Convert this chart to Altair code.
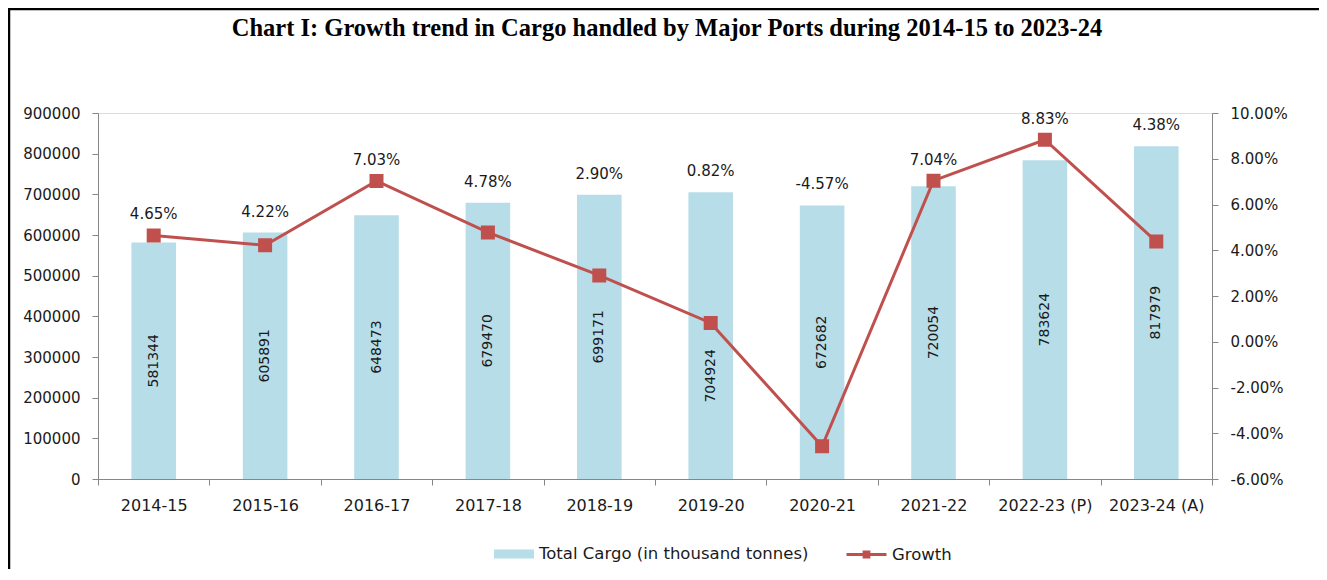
import altair as alt
import pandas as pd

years = ["2014-15", "2015-16", "2016-17", "2017-18", "2018-19",
         "2019-20", "2020-21", "2021-22", "2022-23 (P)", "2023-24 (A)"]
cargo = [581344, 605891, 648473, 679470, 699171, 704924, 672682, 720054, 783624, 817979]
growth_pct = [4.65, 4.22, 7.03, 4.78, 2.90, 0.82, -4.57, 7.04, 8.83, 4.38]

bar_name = "Total Cargo (in thousand tonnes)"
line_name = "Growth"
left_ticks = list(range(0, 900001, 100000))
right_ticks = [-0.06, -0.04, -0.02, 0.0, 0.02, 0.04, 0.06, 0.08, 0.10]

df = pd.DataFrame({
    "year": years,
    "cargo": cargo,
    "growth": [g / 100 for g in growth_pct],
    "bar_series": [bar_name] * len(years),
    "line_series": [line_name] * len(years),
})

W, H = 1114, 366
PAD_L, PAD_T, PAD_R, PAD_B = 90, 105, 107, 90

FONT = "DejaVu Sans"
BAR_COLOR = "#B7DDE8"
LINE_COLOR = "#C0504D"
AXIS_COLOR = "#868686"
TEXT_COLOR = "#1a1a1a"

LEFT_MAX = 900000
R_MIN, R_MAX = -0.06, 0.10
# growth value expressed in units of the left (cargo) axis
G_AS_CARGO = f"((datum.growth - ({R_MIN})) / ({R_MAX} - ({R_MIN})) * {LEFT_MAX})"
HYPHEN = "replace(datum.label, '\u2212', '-')"

x_axis = alt.Axis(title=None, labelAngle=0, tickBand="extent", tickSize=6,
                  labelPadding=12, domainColor=AXIS_COLOR, tickColor=AXIS_COLOR,
                  labelFont=FONT, labelFontSize=16, labelColor=TEXT_COLOR)
x_enc = alt.X("year:N", sort=years,
              scale=alt.Scale(paddingInner=0, paddingOuter=0), axis=x_axis)
x_plain = alt.X("year:N", sort=years)

left_scale = alt.Scale(domain=[0, LEFT_MAX], nice=False, zero=True)
right_scale = alt.Scale(domain=[R_MIN, R_MAX], nice=False, zero=False)

base = alt.Chart(df)

bars = base.mark_bar(width=alt.RelativeBandSize(0.4)).encode(
    x=x_enc,
    y=alt.Y("cargo:Q", scale=left_scale,
            axis=alt.Axis(title=None, orient="left", values=left_ticks, format="d",
                          grid=False, tickSize=6, labelPadding=12,
                          domainColor=AXIS_COLOR, tickColor=AXIS_COLOR,
                          labelFont=FONT, labelFontSize=15, labelColor=TEXT_COLOR)),
    color=alt.Color("bar_series:N", scale=alt.Scale(domain=[bar_name], range=[BAR_COLOR]),
                    legend=alt.Legend(title=None, orient="none", legendX=396, legendY=421,
                                      symbolType="M-1,-0.225H1V0.225H-1Z", symbolSize=1600,
                                      symbolStrokeWidth=0, labelFont=FONT, labelFontSize=16.5,
                                      labelColor=TEXT_COLOR, labelOffset=5, labelLimit=500)),
)

# value labels in the middle of each bar; moved below the growth marker when they would collide
bar_labels = base.mark_text(angle=270, align="center", baseline="middle",
                            font=FONT, fontSize=14, color=TEXT_COLOR).encode(
    x=x_plain,
    y=alt.Y("mid:Q", scale=left_scale, axis=None),
    text=alt.Text("cargo:Q", format="d"),
).transform_calculate(
    gc=G_AS_CARGO
).transform_calculate(
    mid="abs(datum.cargo / 2 - datum.gc) < 70000 ? datum.gc - 130000 : datum.cargo / 2"
)

line = base.mark_line(strokeWidth=3, color=LINE_COLOR,
                      point=alt.OverlayMarkDef(shape="square", size=144, filled=True,
                                               color=LINE_COLOR)).encode(
    x=x_plain,
    y=alt.Y("growth:Q", scale=right_scale,
            axis=alt.Axis(title=None, orient="right", values=right_ticks, format=".2%",
                          labelExpr=HYPHEN,
                          grid=False, tickSize=6, labelPadding=12,
                          domainColor=AXIS_COLOR, tickColor=AXIS_COLOR,
                          labelFont=FONT, labelFontSize=15, labelColor=TEXT_COLOR)),
    stroke=alt.Stroke("line_series:N", scale=alt.Scale(domain=[line_name], range=[LINE_COLOR]),
                      legend=alt.Legend(title=None, orient="none", legendX=747, legendY=420,
                                        symbolType="M-1,0H1M-0.12,-0.12H0.12V0.12H-0.12Z",
                                        symbolSize=1600, symbolStrokeWidth=3,
                                        symbolFillColor=LINE_COLOR, symbolStrokeColor=LINE_COLOR,
                                        labelFont=FONT, labelFontSize=16.5,
                                        labelColor=TEXT_COLOR, labelOffset=4, labelLimit=300)),
)

pct_labels = base.mark_text(align="center", baseline="middle", dy=-21,
                            font=FONT, fontSize=15, color=TEXT_COLOR).encode(
    x=x_plain,
    y=alt.Y("pos:Q", scale=left_scale, axis=None),
    text=alt.Text("txt:N"),
).transform_calculate(
    pos=f"max(datum.cargo, {G_AS_CARGO})",
    txt="replace(format(datum.growth, '.2%'), '\u2212', '-')",
)

border_df = pd.DataFrame({"k": [0]})
left_border = alt.Chart(border_df).mark_rule(color="#000", strokeWidth=2.5).encode(
    x=alt.value(-PAD_L + 1), y=alt.value(-PAD_T + 1), y2=alt.value(H + PAD_B)
)
top_border = alt.Chart(border_df).mark_rule(color="#000", strokeWidth=2.5).encode(
    x=alt.value(-PAD_L), x2=alt.value(W + PAD_R), y=alt.value(-PAD_T + 1)
)

chart = alt.layer(
    bars, bar_labels, line, pct_labels, left_border, top_border
).resolve_scale(
    y="independent", color="independent", stroke="independent"
).properties(
    width=W, height=H,
    autosize=alt.AutoSizeParams(type="none"),
    padding={"left": PAD_L, "top": PAD_T, "right": PAD_R, "bottom": PAD_B},
    title=alt.TitleParams(
        "Chart I: Growth trend in Cargo handled by Major Ports during 2014-15 to 2023-24",
        font="Liberation Serif", fontSize=24.5, fontWeight="bold", color="#000",
        anchor="middle", frame="group", dx=12, dy=26, offset=-27, baseline="alphabetic"),
).configure_view(stroke=None).configure(background="white")

chart.save("out.html", embed_options={"renderer": "svg", "actions": False})
